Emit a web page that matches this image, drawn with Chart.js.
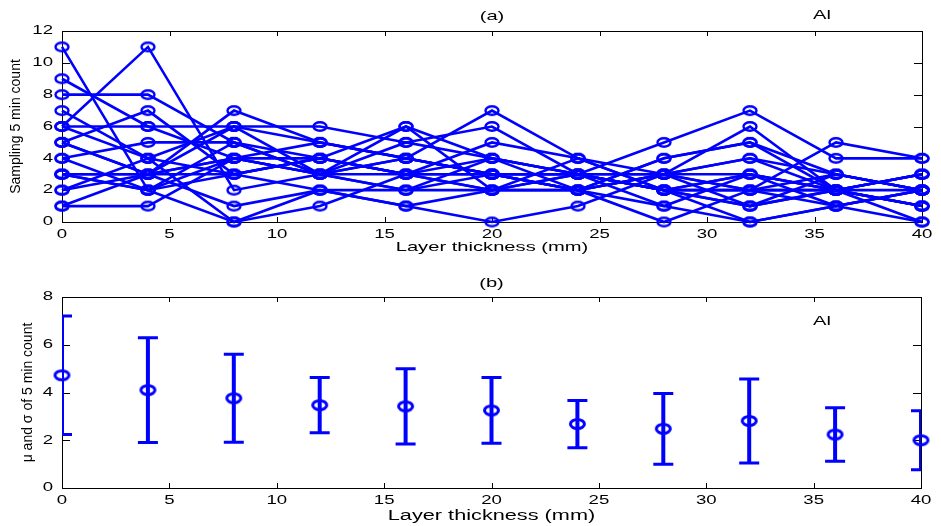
<!DOCTYPE html>
<html>
<head>
<meta charset="utf-8">
<script src="https://cdn.jsdelivr.net/npm/chart.js@4.4.1/dist/chart.umd.min.js"></script>
<style>
  html, body { margin: 0; padding: 0; background: #fff; }
  #wrap { position: relative; width: 941px; height: 526px; overflow: hidden; }
  canvas { position: absolute; left: 0; }
</style>
</head>
<body>
<div id="wrap">
  <canvas id="chartA" width="941" height="263" style="top:0"></canvas>
  <canvas id="chartB" width="941" height="263" style="top:263px"></canvas>
</div>
<script>
// layer thickness (mm)
var thickness = [0, 4, 8, 12, 16, 20, 24, 28, 32, 36, 40];

// (a) single sampling runs, 5 min counts
var run1  = [11, 2, 3, 4, 3, 2, 3, 3, 4, 3, 2];
var run2  = [6, 11, 2, 3, 4, 3, 2, 1, 3, 2, 1];
var run3  = [8, 8, 5, 4, 3, 4, 3, 2, 2, 3, 2];
var run4  = [9, 6, 4, 3, 5, 4, 3, 3, 2, 2, 3];
var run5  = [7, 4, 6, 5, 4, 3, 2, 4, 5, 3, 2];
var run6  = [6, 6, 6, 6, 5, 6, 3, 2, 3, 2, 3];
var run7  = [5, 7, 3, 4, 6, 2, 3, 5, 7, 4, 4];
var run8  = [5, 3, 7, 5, 4, 7, 4, 3, 6, 2, 3];
var run9  = [4, 5, 5, 3, 2, 3, 2, 3, 2, 1, 0];
var run10 = [3, 2, 0, 1, 3, 5, 4, 2, 1, 3, 2];
var run11 = [3, 3, 4, 4, 3, 2, 2, 0, 2, 5, 4];
var run12 = [2, 4, 3, 2, 1, 0, 1, 3, 4, 2, 1];
var run13 = [1, 1, 4, 3, 3, 3, 3, 2, 0, 1, 2];
var run14 = [1, 3, 1, 2, 2, 4, 2, 3, 3, 2, 3];
var run15 = [4, 2, 5, 3, 4, 3, 2, 4, 5, 2, 1];
var run16 = [5, 3, 3, 4, 3, 3, 3, 2, 1, 2, 2];
var run17 = [3, 2, 4, 5, 4, 3, 3, 2, 2, 2, 1];
var run18 = [2, 3, 6, 3, 2, 2, 2, 3, 1, 2, 0];
var run19 = [6, 4, 0, 2, 1, 2, 4, 2, 3, 1, 2];
var run20 = [3, 3, 4, 3, 6, 4, 3, 1, 0, 1, 2];
var runs = [run1, run2, run3, run4, run5, run6, run7, run8, run9, run10,
            run11, run12, run13, run14, run15, run16, run17, run18, run19, run20];

// (b) mean and sigma of the 5 min count
var mu    = [4.72, 4.10, 3.76, 3.47, 3.42, 3.25, 2.68, 2.48, 2.81, 2.24, 2.00];
var sigma = [2.48, 2.19, 1.84, 1.16, 1.58, 1.38, 0.99, 1.48, 1.76, 1.12, 1.24];

// tick labels
var xTicks  = [0, 5, 10, 15, 20, 25, 30, 35, 40];
var yTicksA = [0, 2, 4, 6, 8, 10, 12];
var yTicksB = [0, 2, 4, 6, 8];

var BLUE = '#0000ff';
var STRETCH = 1.55;   // the figure text is wide, horizontal text only

Chart.defaults.font.family = "'Liberation Sans', Arial, sans-serif";
Chart.defaults.color = '#000';

// horizontal text gets stretched, rotated text stays normal
function wideText(ctx) {
  var fill = ctx.fillText;
  ctx.fillText = function (text, x, y) {
    var t = this.getTransform();
    if (Math.abs(t.b) > 1e-6 || Math.abs(t.c) > 1e-6) {
      return fill.call(this, text, x, y);
    }
    this.save();
    this.translate(x, y);
    this.scale(STRETCH, 1);
    fill.call(this, text, 0, 0);
    this.restore();
  };
  return ctx;
}

// open marker, looks like an ellipse in the figure
function ring(rx, ry, lw) {
  var c = document.createElement('canvas');
  c.width = Math.ceil(2 * rx + lw + 2);
  c.height = Math.ceil(2 * ry + lw + 2);
  var g = c.getContext('2d');
  g.strokeStyle = BLUE;
  g.lineWidth = lw;
  g.beginPath();
  g.ellipse(c.width / 2, c.height / 2, rx, ry, 0, 0, Math.PI * 2);
  g.stroke();
  return c;
}

// box + inward ticks + small labels
var matlabAxes = {
  id: 'matlabAxes',
  beforeDatasetsDraw: function (chart, args, opts) {
    var ctx = chart.ctx, a = chart.chartArea;
    var xs = chart.scales.x, ys = chart.scales.y;
    ctx.save();
    ctx.strokeStyle = '#000';
    ctx.lineWidth = 1;
    ctx.strokeRect(Math.round(a.left) + 0.5, Math.round(a.top) + 0.5,
                   Math.round(a.right - a.left), Math.round(a.bottom - a.top));
    ctx.beginPath();
    xs.ticks.forEach(function (t) {
      var px = Math.round(xs.getPixelForValue(t.value)) + 0.5;
      ctx.moveTo(px, a.bottom); ctx.lineTo(px, a.bottom - 5);
      ctx.moveTo(px, a.top); ctx.lineTo(px, a.top + 5);
    });
    ys.ticks.forEach(function (t) {
      var py = Math.round(ys.getPixelForValue(t.value)) + 0.5;
      ctx.moveTo(a.left, py); ctx.lineTo(a.left + 8, py);
      ctx.moveTo(a.right, py); ctx.lineTo(a.right - 8, py);
    });
    ctx.stroke();

    ctx.fillStyle = '#000';
    ctx.font = "13px 'Liberation Sans', Arial, sans-serif";
    ctx.textAlign = 'center';
    ctx.textBaseline = 'middle';
    (opts.labels || []).forEach(function (l) {
      var lx = l.x === 'center' ? (a.left + a.right) / 2 : l.x;
      ctx.fillText(l.text, lx, l.y);
    });
    ctx.restore();
  }
};

// error bars for (b), mean +- sigma
var errorBars = {
  id: 'errorBars',
  beforeDatasetsDraw: function (chart) {
    if (!chart.options.plugins.errorBars) return;
    var ctx = chart.ctx, a = chart.chartArea;
    var xs = chart.scales.x, ys = chart.scales.y;
    ctx.save();
    ctx.beginPath();
    ctx.rect(a.left, a.top, a.right - a.left, a.bottom - a.top);
    ctx.clip();
    ctx.strokeStyle = BLUE;
    for (var i = 0; i < thickness.length; i++) {
      var px = xs.getPixelForValue(thickness[i]);
      var hi = ys.getPixelForValue(mu[i] + sigma[i]);
      var lo = ys.getPixelForValue(mu[i] - sigma[i]);
      ctx.lineWidth = 4;
      ctx.beginPath();
      ctx.moveTo(px, hi); ctx.lineTo(px, lo);
      ctx.stroke();
      ctx.lineWidth = 3;
      ctx.beginPath();
      ctx.moveTo(px - 10, hi); ctx.lineTo(px + 10, hi);
      ctx.moveTo(px - 10, lo); ctx.lineTo(px + 10, lo);
      ctx.stroke();
    }
    ctx.restore();
  }
};

function xScale(title, titleSize, padBottom, height) {
  return {
    type: 'linear', min: 0, max: 40,
    grid: { display: false, drawTicks: false },
    border: { display: false },
    afterBuildTicks: function (s) { s.ticks = xTicks.map(function (v) { return { value: v }; }); },
    ticks: { padding: 5, font: { size: 12 }, color: '#000', maxRotation: 0, autoSkip: false },
    title: { display: true, text: title, color: '#000', font: { size: titleSize },
             padding: { top: 0, bottom: padBottom } },
    afterFit: function (s) { s.height = height; }
  };
}

function yScale(title, max, ticks, padTop) {
  return {
    type: 'linear', min: 0, max: max,
    grid: { display: false, drawTicks: false },
    border: { display: false },
    afterBuildTicks: function (s) { s.ticks = ticks.map(function (v) { return { value: v }; }); },
    ticks: { padding: 9, font: { size: 12 }, color: '#000' },
    title: { display: true, text: title, color: '#000', font: { size: 14 },
             padding: { top: padTop, bottom: 0 } },
    afterFit: function (s) { s.width = 62; }
  };
}

// (a)
var markA = ring(6.5, 4.2, 2.4);
new Chart(wideText(document.getElementById('chartA').getContext('2d')), {
  type: 'line',
  data: {
    datasets: runs.map(function (r) {
      return {
        data: thickness.map(function (t, i) { return { x: t, y: r[i] }; }),
        borderColor: BLUE,
        borderWidth: 2.6,
        pointStyle: markA,
        pointRadius: 5,
        clip: false,
        tension: 0
      };
    })
  },
  options: {
    responsive: false,
    animation: false,
    events: [],
    layout: { padding: { left: 0, right: 19, top: 31, bottom: 0 } },
    scales: {
      x: xScale('Layer thickness (mm)', 13, 8, 41),
      y: yScale('Sampling 5 min count', 12, yTicksA, 8)
    },
    plugins: {
      legend: { display: false },
      tooltip: { enabled: false },
      matlabAxes: { labels: [{ text: '(a)', x: 'center', y: 16 }, { text: 'Al', x: 822, y: 15 }] }
    }
  },
  plugins: [matlabAxes]
});

// (b)
var markB = ring(7, 4.5, 3);
new Chart(wideText(document.getElementById('chartB').getContext('2d')), {
  type: 'line',
  data: {
    datasets: [{
      data: thickness.map(function (t, i) { return { x: t, y: mu[i] }; }),
      showLine: false,
      borderColor: BLUE,
      pointStyle: markB,
      pointRadius: 5,
      clip: false
    }]
  },
  options: {
    responsive: false,
    animation: false,
    events: [],
    layout: { padding: { left: 0, right: 20, top: 34, bottom: 0 } },
    scales: {
      x: xScale('Layer thickness (mm)', 14, 1, 38),
      y: yScale('\u03bc and \u03c3 of 5 min count', 8, yTicksB, 20)
    },
    plugins: {
      legend: { display: false },
      tooltip: { enabled: false },
      errorBars: {},
      matlabAxes: { labels: [{ text: '(b)', x: 'center', y: 20 }, { text: 'Al', x: 822, y: 58 }] }
    }
  },
  plugins: [matlabAxes, errorBars]
});
</script>
</body>
</html>
